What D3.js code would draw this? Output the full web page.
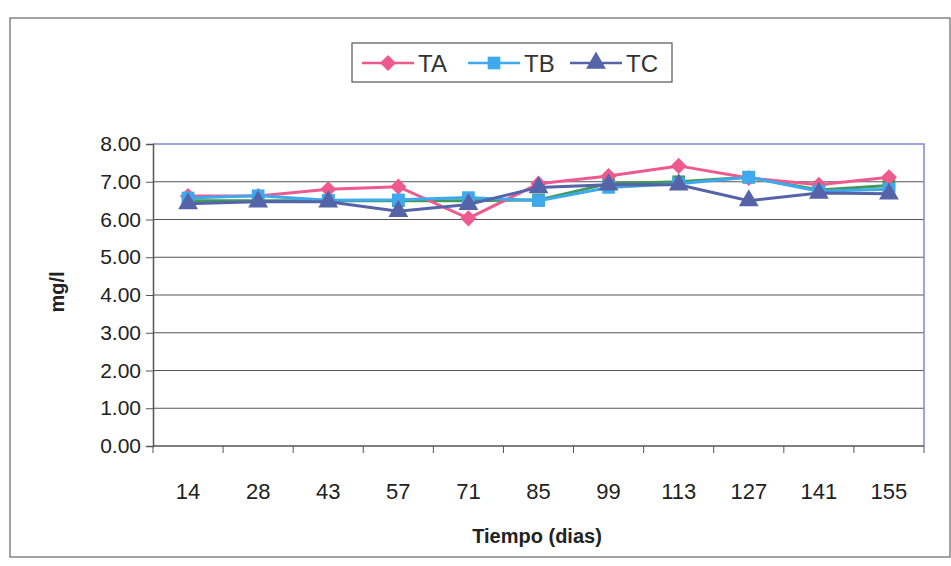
<!DOCTYPE html>
<html>
<head>
<meta charset="utf-8">
<script src="https://cdn.jsdelivr.net/npm/d3@7"></script>
<style>
  body { margin: 0; background: #fff; }
  text { font-family: "Liberation Sans", Arial, sans-serif; }
</style>
</head>
<body>
<div id="chart"></div>
<script>
// tick labels / categories
const dias = ["14", "28", "43", "57", "71", "85", "99", "113", "127", "141", "155"];
const yTicks = [0, 1, 2, 3, 4, 5, 6, 7, 8];

// series values (mg/l)
const TA = [6.62, 6.62, 6.80, 6.87, 6.03, 6.95, 7.15, 7.42, 7.10, 6.92, 7.12];
const TB = [6.57, 6.63, 6.51, 6.52, 6.58, 6.50, 6.85, 6.95, 7.12, 6.75, 6.80];
const TC = [6.42, 6.47, 6.47, 6.22, 6.40, 6.85, 6.92, 6.92, 6.50, 6.70, 6.68];
// green series hidden under TB, not in the legend
const TD = [6.50, 6.50, 6.50, 6.50, 6.50, 6.52, 6.95, 7.00, 7.12, 6.78, 6.90];

const width = 951, height = 566;
const margin = { left: 153, right: 27, top: 144, bottom: 120 };

const svg = d3.select("#chart").append("svg")
    .attr("width", width)
    .attr("height", height);

// outer chart border
svg.append("rect")
    .attr("x", 10).attr("y", 18)
    .attr("width", 940).attr("height", 539)
    .attr("fill", "none")
    .attr("stroke", "#666")
    .attr("stroke-width", 1.2);

const x = d3.scaleBand()
    .domain(dias)
    .range([margin.left, width - margin.right]);

const y = d3.scaleLinear()
    .domain([0, 8])
    .range([height - margin.bottom, margin.top]);

// gridlines
svg.append("g")
    .selectAll("line")
    .data(yTicks.filter(d => d > 0 && d < 8))
    .enter()
    .append("line")
    .attr("x1", margin.left).attr("x2", width - margin.right)
    .attr("y1", d => y(d)).attr("y2", d => y(d))
    .attr("stroke", "#555")
    .attr("stroke-width", 1.2);

// plot area border top / right (blue)
svg.append("path")
    .attr("d", `M${margin.left},${y(8)}H${width - margin.right}V${y(0)}`)
    .attr("fill", "none")
    .attr("stroke", "#7d86d6")
    .attr("stroke-width", 1.5);

// y axis
const yAxis = svg.append("g")
    .attr("transform", `translate(${margin.left},0)`)
    .call(d3.axisLeft(y).tickValues(yTicks).tickFormat(d3.format(".2f")).tickSize(7).tickPadding(5));
yAxis.select(".domain").attr("stroke", "#555").attr("stroke-width", 1.5);
yAxis.selectAll(".tick line").attr("stroke", "#555");
yAxis.selectAll("text").attr("font-size", 21).attr("fill", "#222");

// x axis: ticks between categories
const xAxis = svg.append("g")
    .attr("transform", `translate(0,${y(0)})`);
xAxis.append("line")
    .attr("x1", margin.left).attr("x2", width - margin.right)
    .attr("stroke", "#555").attr("stroke-width", 1.5);
xAxis.selectAll(".sep")
    .data(dias.concat(["end"]))
    .enter()
    .append("line")
    .attr("class", "sep")
    .attr("x1", (d, i) => margin.left + i * x.step())
    .attr("x2", (d, i) => margin.left + i * x.step())
    .attr("y1", 0).attr("y2", 7)
    .attr("stroke", "#555");
xAxis.selectAll(".lbl")
    .data(dias)
    .enter()
    .append("text")
    .attr("class", "lbl")
    .attr("x", d => x(d) + x.bandwidth() / 2)
    .attr("y", 53)
    .attr("text-anchor", "middle")
    .attr("font-size", 22)
    .attr("fill", "#222")
    .text(d => d);

// axis titles
svg.append("text")
    .attr("x", 537).attr("y", 543)
    .attr("text-anchor", "middle")
    .attr("font-size", 20)
    .attr("font-weight", "bold")
    .attr("fill", "#222")
    .text("Tiempo (dias)");

svg.append("text")
    .attr("transform", "translate(64,292) rotate(-90)")
    .attr("text-anchor", "middle")
    .attr("font-size", 20)
    .attr("font-weight", "bold")
    .attr("fill", "#222")
    .text("mg/l");

// series
const series = [
    { name: "TD", values: TD, color: "#3f9a5a", symbol: d3.symbolSquare, size: 160, rot: 0, legend: false },
    { name: "TA", values: TA, color: "#ee5a8e", symbol: d3.symbolSquare, size: 130, rot: 45, legend: true },
    { name: "TB", values: TB, color: "#3fa9ee", symbol: d3.symbolSquare, size: 160, rot: 0, legend: true },
    { name: "TC", values: TC, color: "#5563a8", symbol: d3.symbolTriangle, size: 170, rot: 0, legend: true }
];

const line = d3.line()
    .x((d, i) => x(dias[i]) + x.bandwidth() / 2)
    .y(d => y(d));

series.forEach(s => {
    const g = svg.append("g");
    g.append("path")
        .attr("d", line(s.values))
        .attr("fill", "none")
        .attr("stroke", s.color)
        .attr("stroke-width", 3);
    g.selectAll("path.mk")
        .data(s.values)
        .enter()
        .append("path")
        .attr("class", "mk")
        .attr("d", d3.symbol().type(s.symbol).size(s.size))
        .attr("transform", (d, i) => `translate(${x(dias[i]) + x.bandwidth() / 2},${y(d)}) rotate(${s.rot})`)
        .attr("fill", s.color);
});

// legend
const legend = svg.append("g");
legend.append("rect")
    .attr("x", 352).attr("y", 43)
    .attr("width", 320).attr("height", 39)
    .attr("fill", "#fff")
    .attr("stroke", "#555")
    .attr("stroke-width", 1.2);

const legendItems = series.filter(s => s.legend);
const legendX = [362, 468, 570];
legendItems.forEach((s, i) => {
    const lx = legendX[i];
    legend.append("line")
        .attr("x1", lx).attr("x2", lx + 52)
        .attr("y1", 63).attr("y2", 63)
        .attr("stroke", s.color)
        .attr("stroke-width", 2.5);
    legend.append("path")
        .attr("d", d3.symbol().type(s.symbol).size(s.size))
        .attr("transform", `translate(${lx + 26},63) rotate(${s.rot})`)
        .attr("fill", s.color);
    legend.append("text")
        .attr("x", lx + 56).attr("y", 72)
        .attr("font-size", 24)
        .attr("fill", "#333")
        .text(s.name);
});
</script>
</body>
</html>
